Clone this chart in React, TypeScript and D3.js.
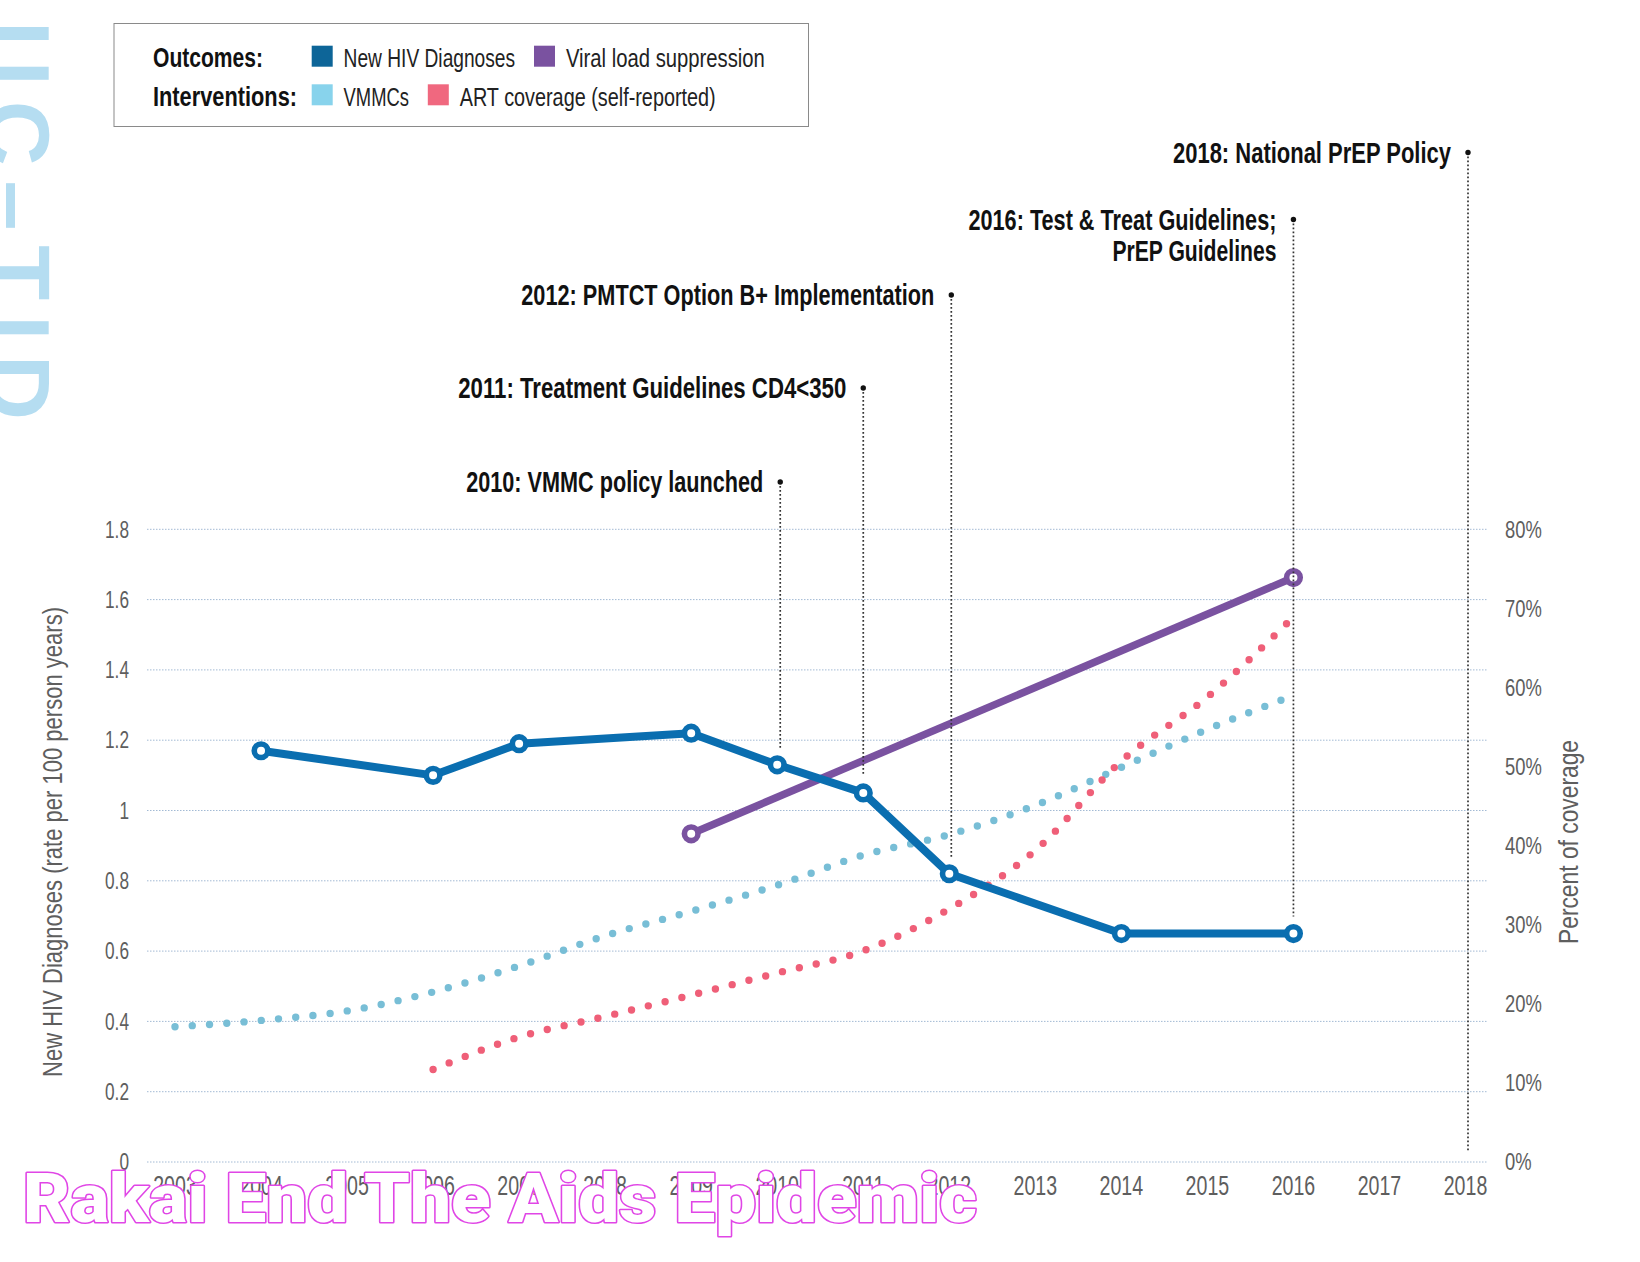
import React from 'react';
import * as d3 from 'd3';

const W = 1640;
const H = 1262;

// ---- data ----
const hivYears = [2004, 2006, 2007, 2009, 2010, 2011, 2012, 2014, 2016];
const hivRate = [1.17, 1.1, 1.19, 1.22, 1.13, 1.05, 0.82, 0.65, 0.65];
const vlsYears = [2009, 2016];
const vlsPct = [41.5, 73.9];
const vmmcYears = [2003, 2004, 2005, 2006, 2007, 2008, 2009, 2010, 2011, 2012, 2013, 2014, 2015, 2016];
const vmmcPct = [17.1, 17.9, 19.1, 21.5, 24.8, 28.6, 31.7, 35.0, 38.8, 41.4, 45.1, 49.9, 54.7, 59.0];
const artYears = [2006, 2007, 2008, 2009, 2010, 2011, 2012, 2013, 2014, 2015, 2016];
const artPct = [11.7, 15.8, 18.4, 21.1, 23.9, 26.7, 32.0, 39.4, 50.7, 58.8, 68.9];
const yearTicks = [2003, 2004, 2005, 2006, 2007, 2008, 2009, 2010, 2011, 2012, 2013, 2014, 2015, 2016, 2017, 2018];
const leftTicks = [0, 0.2, 0.4, 0.6, 0.8, 1, 1.2, 1.4, 1.6, 1.8];
const rightTicks = [0, 10, 20, 30, 40, 50, 60, 70, 80];
const annotYears = [2010, 2011, 2012, 2016, 2018];
const annotLines = [
  ['2010: VMMC policy launched'],
  ['2011: Treatment Guidelines CD4<350'],
  ['2012: PMTCT Option B+ Implementation'],
  ['2016: Test & Treat Guidelines;', 'PrEP Guidelines'],
  ['2018: National PrEP Policy'],
];

// ---- layout ----
const annotDotY = [482, 388, 295, 219.5, 152.5];
const annotShift = [3, 0, 2, 0, 2.5];
const annotWidths = [297, 388, 413, 308, 164, 278];
const FONT = "'Liberation Sans', Arial, sans-serif";
const HEAVY = "Roboto, Inter, Lato, 'DejaVu Sans', sans-serif";
const C = {
  hiv: '#0a6eb0',
  hivSw: '#0d6598',
  vls: '#7a52a0',
  vmmc: '#78bed6',
  vmmcSw: '#88d3ec',
  art: '#ef5f78',
  artSw: '#f0687f',
  grid: '#a3bad4',
  tick: '#5e5e5e',
};

const x = d3.scaleLinear().domain([2003, 2018]).range([175, 1465.5]);
const yL = d3.scaleLinear().domain([0, 1.8]).range([1162, 529.3]);
const yR = d3.scaleLinear().domain([0, 80]).range([1162, 529.3]);

function CText({ x, y, sx = 1, anchor = 'start', size, weight = 'normal', fill = '#111', children }: any) {
  return (
    <text
      transform={`translate(${x},${y}) scale(${sx},1)`}
      textAnchor={anchor}
      fontSize={size}
      fontWeight={weight}
      fill={fill}
      fontFamily={FONT}
    >
      {children}
    </text>
  );
}

function FText({ x, y, len, size, weight = 'normal', fill = '#111', children }: any) {
  return (
    <text
      x={x}
      y={y}
      textLength={len}
      lengthAdjust="spacingAndGlyphs"
      fontSize={size}
      fontWeight={weight}
      fill={fill}
      fontFamily={FONT}
    >
      {children}
    </text>
  );
}

export default function App() {
  const hivPts: [number, number][] = hivYears.map((yr, i) => [x(yr), yL(hivRate[i])]);
  const vlsPts: [number, number][] = vlsYears.map((yr, i) => [x(yr), yR(vlsPct[i])]);
  const vmmcPts: [number, number][] = vmmcYears.map((yr, i) => [x(yr), yR(vmmcPct[i])]);
  const artPts: [number, number][] = artYears.map((yr, i) => [x(yr), yR(artPct[i])]);
  const straight = d3.line();
  const smooth = d3.line().curve(d3.curveMonotoneX);

  const annotBottom = annotYears.map((yr) => {
    const idx = hivYears.indexOf(yr);
    return idx >= 0 ? yL(hivRate[idx]) - 17 : yL(0) - 10;
  });

  let wIdx = 0;

  return (
    <svg
      width={W}
      height={H}
      viewBox={`0 0 ${W} ${H}`}
      style={{ position: 'absolute', left: 0, top: 0, background: '#fff', display: 'block' }}
    >
      <rect x={0} y={0} width={W} height={H} fill="#fff" />

      {/* decorative side letters */}
      <text
        transform="translate(-14,21) rotate(90)"
        fontSize={90}
        fontWeight="bold"
        fill="#b5ddf1"
        fontFamily={FONT}
        textLength={399}
        lengthAdjust="spacing"
      >
        IIC–TID
      </text>

      {/* legend */}
      <rect x={114} y={23.5} width={694.5} height={103} fill="#fff" stroke="#8a8a8a" strokeWidth={1} />
      <FText x={153} y={66.5} len={110} size={28} weight="bold">Outcomes:</FText>
      <FText x={153} y={105.5} len={144} size={28} weight="bold">Interventions:</FText>
      <rect x={311.7} y={45.7} width={21} height={21} fill={C.hivSw} />
      <FText x={343.6} y={66.5} len={171.5} size={25} fill="#222">New HIV Diagnoses</FText>
      <rect x={534} y={45.7} width={21} height={21} fill={C.vls} />
      <FText x={565.9} y={66.5} len={199} size={25} fill="#222">Viral load suppression</FText>
      <rect x={311.7} y={84.3} width={21} height={21} fill={C.vmmcSw} />
      <FText x={343.6} y={105.5} len={65.4} size={25} fill="#222">VMMCs</FText>
      <rect x={427.8} y={84.3} width={21} height={21} fill={C.artSw} />
      <FText x={459.7} y={105.5} len={256} size={25} fill="#222">ART coverage (self-reported)</FText>

      {/* gridlines */}
      {leftTicks.map((t) => (
        <line
          key={`g${t}`}
          x1={147}
          x2={1487}
          y1={yL(t)}
          y2={yL(t)}
          stroke={C.grid}
          strokeWidth={1}
          strokeDasharray="1.5 1.5"
        />
      ))}

      {/* left ticks */}
      {leftTicks.map((t) => (
        <CText key={`l${t}`} x={129} y={yL(t) + 8.2} sx={0.75} anchor="end" size={23} fill={C.tick}>
          {d3.format('~g')(t)}
        </CText>
      ))}
      {/* right ticks */}
      {rightTicks.map((t) => (
        <CText key={`r${t}`} x={1505} y={yR(t) + 8.2} sx={0.8} anchor="start" size={23} fill={C.tick}>
          {`${t}%`}
        </CText>
      ))}
      {/* year ticks */}
      {yearTicks.map((t) => (
        <CText key={`y${t}`} x={x(t)} y={1195} sx={0.7} anchor="middle" size={28} fill={C.tick}>
          {String(t)}
        </CText>
      ))}

      {/* axis titles */}
      <text
        transform={`translate(62,842) rotate(-90)`}
        x={-235}
        y={0}
        textLength={470}
        lengthAdjust="spacingAndGlyphs"
        fontSize={28}
        fill={C.tick}
        fontFamily={FONT}
      >
        New HIV Diagnoses (rate per 100 person years)
      </text>
      <text
        transform={`translate(1578,842) rotate(-90)`}
        x={-102}
        y={0}
        textLength={204}
        lengthAdjust="spacingAndGlyphs"
        fontSize={28}
        fill={C.tick}
        fontFamily={FONT}
      >
        Percent  of coverage
      </text>

      {/* dotted intervention series */}
      <path
        d={smooth(vmmcPts) || ''}
        fill="none"
        stroke={C.vmmc}
        strokeWidth={7.4}
        strokeLinecap="round"
        strokeDasharray="0 17.3"
      />
      <path
        d={smooth(artPts) || ''}
        fill="none"
        stroke={C.art}
        strokeWidth={7.4}
        strokeLinecap="round"
        strokeDasharray="0 17.3"
      />

      {/* outcome lines */}
      <path d={straight(vlsPts) || ''} fill="none" stroke={C.vls} strokeWidth={7.5} />
      <path d={straight(hivPts) || ''} fill="none" stroke={C.hiv} strokeWidth={8} strokeLinejoin="round" />
      {vlsPts.map((p, i) => (
        <circle key={`vm${i}`} cx={p[0]} cy={p[1]} r={6.8} fill="#fff" stroke={C.vls} strokeWidth={5.6} />
      ))}
      {hivPts.map((p, i) => (
        <circle key={`hm${i}`} cx={p[0]} cy={p[1]} r={6.8} fill="#fff" stroke={C.hiv} strokeWidth={5.6} />
      ))}

      {/* annotations */}
      {annotYears.map((yr, i) => {
        const ax = x(yr) + annotShift[i];
        const dy = annotDotY[i];
        return (
          <g key={`a${yr}`}>
            <line
              x1={ax}
              x2={ax}
              y1={dy}
              y2={annotBottom[i]}
              stroke="#333"
              strokeWidth={1.7}
              strokeDasharray="1.7 2.3"
            />
            <circle cx={ax} cy={dy} r={2.7} fill="#111" />
            {annotLines[i].map((ln, j) => {
              const w = annotWidths[wIdx++];
              return (
                <FText key={j} x={ax - 17 - w} y={dy + 10 + j * 31.7} len={w} size={29} weight="bold" fill="#111">
                  {ln}
                </FText>
              );
            })}
          </g>
        );
      })}

      {/* bottom watermark */}
      <text
        x={23}
        y={1222}
        textLength={954}
        lengthAdjust="spacingAndGlyphs"
        fontSize={68}
        fontWeight={900}
        fill="#fff"
        stroke="#e046e6"
        strokeWidth={3}
        strokeLinejoin="round"
        paintOrder="stroke"
        fontFamily={HEAVY}
      >
        Rakai End The Aids Epidemic
      </text>
    </svg>
  );
}
